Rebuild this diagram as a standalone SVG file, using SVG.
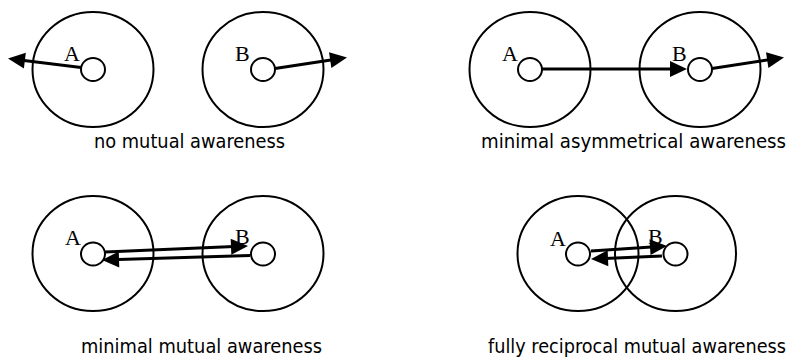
<svg xmlns="http://www.w3.org/2000/svg" width="791" height="358" viewBox="0 0 791 358">
  <defs>
    <style>
      .zone { fill: none; stroke: #000; stroke-width: 2; }
      .core { fill: #fff; stroke: #000; stroke-width: 2; }
      .name { font-family: "Liberation Serif", "Times New Roman", serif; font-size: 22px; fill: #000; }
      .caption { font-family: "DejaVu Sans Condensed", "DejaVu Sans", Verdana, sans-serif; font-stretch: condensed; font-size: 20px; fill: #000; }
      .link { fill: none; stroke: #000; stroke-width: 3; marker-end: url(#head); }
    </style>
    <marker id="head" markerUnits="userSpaceOnUse" markerWidth="17" markerHeight="16" refX="9" refY="8" orient="auto" overflow="visible">
      <path d="M0,0 L17,8 L0,16 Z" fill="#000"/>
    </marker>
  </defs>

  <rect width="791" height="358" fill="#fff"/>

  <!-- awareness zones -->
  <g id="p1-A">
    <ellipse class="zone" cx="93" cy="69.5" rx="60.5" ry="57.5"/>
    <text class="name" x="64" y="61">A</text>
  </g>
  <g id="p1-B">
    <ellipse class="zone" cx="263" cy="69.5" rx="60.5" ry="57.5"/>
    <text class="name" x="235" y="61">B</text>
  </g>
  <g id="p2-A">
    <ellipse class="zone" cx="530" cy="69.5" rx="60.5" ry="57.5"/>
    <text class="name" x="502" y="61">A</text>
  </g>
  <g id="p2-B">
    <ellipse class="zone" cx="700" cy="69.5" rx="60.5" ry="57.5"/>
    <text class="name" x="672" y="61">B</text>
  </g>
  <g id="p3-A">
    <ellipse class="zone" cx="93" cy="253.5" rx="60.5" ry="57.5"/>
    <text class="name" x="65" y="245">A</text>
  </g>
  <g id="p3-B">
    <ellipse class="zone" cx="263" cy="253.5" rx="60.5" ry="57.5"/>
    <text class="name" x="235" y="244">B</text>
  </g>
  <g id="p4-A">
    <ellipse class="zone" cx="578" cy="253.5" rx="60.5" ry="57.5"/>
    <text class="name" x="550" y="246">A</text>
  </g>
  <g id="p4-B">
    <ellipse class="zone" cx="675.5" cy="253.5" rx="60.5" ry="57.5"/>
    <text class="name" x="648" y="244">B</text>
  </g>

  <!-- attention arrows -->
  <g id="connectors">
    <line class="link" x1="81" y1="67.5" x2="15.94" y2="59.48"/>
    <line class="link" x1="275" y1="68.5" x2="339.1" y2="58.7"/>
    <line class="link" x1="542" y1="69" x2="679" y2="69"/>
    <line class="link" x1="712" y1="68.5" x2="776.1" y2="58.7"/>
    <line class="link" x1="105" y1="252" x2="240" y2="246.34"/>
    <line class="link" x1="250" y1="255.5" x2="110" y2="259.76"/>
    <line class="link" x1="591" y1="251" x2="659" y2="246.53"/>
    <line class="link" x1="662" y1="256" x2="599" y2="258.66"/>
  </g>

  <!-- actors -->
  <g id="actors">
    <ellipse class="core" cx="93" cy="69.5" rx="12" ry="11.5"/>
    <ellipse class="core" cx="263" cy="69.5" rx="12" ry="11.5"/>
    <ellipse class="core" cx="530" cy="69.5" rx="12" ry="11.5"/>
    <ellipse class="core" cx="700" cy="69.5" rx="12" ry="11.5"/>
    <ellipse class="core" cx="93" cy="254" rx="12" ry="11.5"/>
    <ellipse class="core" cx="263" cy="254" rx="12" ry="11.5"/>
    <ellipse class="core" cx="578" cy="254" rx="12" ry="11.5"/>
    <ellipse class="core" cx="675.5" cy="254" rx="12" ry="11.5"/>
  </g>

  <!-- captions -->
  <g id="captions">
    <text class="caption" x="94" y="148" textLength="191" lengthAdjust="spacingAndGlyphs">no mutual awareness</text>
    <text class="caption" x="481" y="148" textLength="305" lengthAdjust="spacingAndGlyphs">minimal asymmetrical awareness</text>
    <text class="caption" x="81" y="352.5" textLength="241" lengthAdjust="spacingAndGlyphs">minimal mutual awareness</text>
    <text class="caption" x="488" y="352.5" textLength="298" lengthAdjust="spacingAndGlyphs">fully reciprocal mutual awareness</text>
  </g>
</svg>
